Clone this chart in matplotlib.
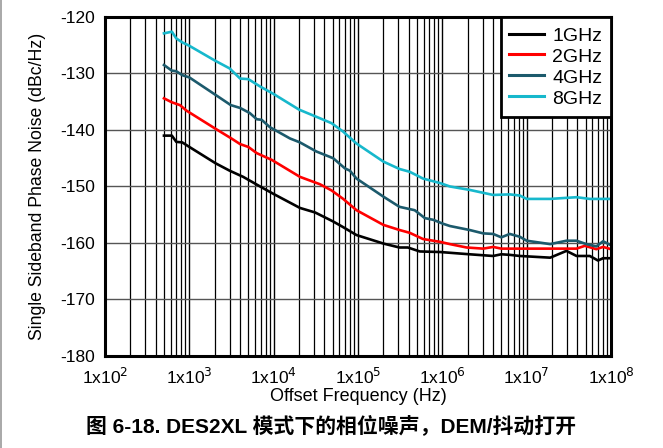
import matplotlib
matplotlib.use("Agg")
import matplotlib.pyplot as plt
from matplotlib.lines import Line2D
from matplotlib.ticker import LogLocator, FixedLocator, NullFormatter

plt.rcParams['font.family'] = ['Liberation Sans', 'Noto Sans CJK SC', 'DejaVu Sans']

# Phase noise traces (offset frequency in Hz, noise in dBc/Hz)
freq_1g = [500, 620, 700, 825, 1000, 2050, 3000, 4350, 6900, 9900, 20500, 31000,
           50800, 66700, 96000, 2.0e5, 3.1e5, 3.9e5, 5.4e5, 9.4e5, 2.1e6, 4.0e6,
           5.0e6, 6.3e6, 8.3e6, 1.9e7, 2.96e7, 3.9e7, 5.6e7, 7.0e7, 8.05e7, 1.0e8]
pn_1g = [-141.0, -141.0, -142.1, -142.2, -143.0, -145.9, -147.2, -148.3, -150.0,
         -151.3, -153.8, -154.6, -156.2, -157.2, -158.6, -160.1, -160.8, -160.8,
         -161.5, -161.6, -162.0, -162.3, -162.0, -162.1, -162.3, -162.6, -161.4,
         -162.3, -162.3, -163.1, -162.7, -162.7]

freq_2g = [500, 620, 774, 930, 2050, 3150, 4000, 5000, 6300, 9500, 20500, 35300,
           48600, 66700, 96000, 2.0e5, 3.1e5, 4.1e5, 5.9e5, 9.4e5, 1.23e6, 1.94e6,
           3.05e6, 4.0e6, 5.0e6, 1.9e7, 3.9e7, 4.9e7, 6.7e7, 8.05e7, 1.0e8]
pn_2g = [-134.4, -135.1, -135.6, -136.6, -139.8, -141.5, -142.5, -143.0, -144.1,
         -145.3, -148.3, -149.6, -150.7, -152.2, -154.2, -156.8, -157.7, -158.2,
         -159.3, -159.8, -160.2, -160.8, -161.0, -160.7, -161.0, -161.0, -161.0,
         -160.5, -161.1, -160.7, -161.1]

freq_4g = [500, 620, 700, 825, 1000, 2050, 3100, 4000, 5200, 6300, 7200, 9000,
           15600, 20500, 32000, 50800, 70000, 80000, 96000, 2.0e5, 3.1e5, 4.7e5,
           6.2e5, 7.8e5, 1.02e6, 1.23e6, 2.1e6, 3.05e6, 4.0e6, 5.0e6, 6.3e6, 8.3e6,
           1.0e7, 1.9e7, 2.96e7, 3.9e7, 5.1e7, 6.7e7, 8.05e7, 1.0e8]
pn_4g = [-128.5, -129.5, -129.6, -130.3, -130.7, -133.8, -135.6, -136.1, -137.0,
         -138.1, -138.2, -139.5, -141.5, -142.2, -143.8, -145.0, -146.8, -147.2,
         -148.6, -151.8, -153.6, -154.2, -155.6, -155.9, -156.6, -157.0, -157.7,
         -158.3, -158.4, -159.0, -158.4, -158.9, -159.6, -160.2, -159.6, -159.6,
         -160.2, -160.6, -159.7, -160.4]

freq_8g = [500, 620, 700, 825, 1000, 2000, 3000, 4000, 5000, 6900, 9900, 20000,
           35000, 48600, 66700, 96000, 2.0e5, 3.1e5, 4.1e5, 5.9e5, 9.4e5, 1.23e6,
           2.1e6, 4.0e6, 6.3e6, 8.3e6, 1.0e7, 1.9e7, 3.9e7, 5.6e7, 1.0e8]
pn_8g = [-122.9, -122.6, -123.8, -124.5, -125.1, -127.7, -129.1, -130.9, -131.0,
         -132.3, -133.6, -136.4, -137.9, -138.8, -140.3, -142.4, -145.6, -146.9,
         -147.4, -148.6, -149.4, -150.0, -150.6, -151.5, -151.4, -151.6, -152.2,
         -152.2, -151.9, -152.2, -152.2]

series_labels = ['1GHz', '2GHz', '4GHz', '8GHz']
series_colors = ['#000000', '#ff0000', '#1c5a6c', '#17b8cc']

x_tick_values = [1e2, 1e3, 1e4, 1e5, 1e6, 1e7, 1e8]
x_tick_labels = [r'1x10$^{2}$', r'1x10$^{3}$', r'1x10$^{4}$', r'1x10$^{5}$',
                 r'1x10$^{6}$', r'1x10$^{7}$', r'1x10$^{8}$']
y_ticks = [-180, -170, -160, -150, -140, -130, -120]

fig = plt.figure(figsize=(6.63, 4.48), dpi=100)
ax = fig.add_axes([0.1584, 0.2054, 0.7632, 0.7567])

traces = [(freq_1g, pn_1g), (freq_2g, pn_2g), (freq_4g, pn_4g), (freq_8g, pn_8g)]
for (f, p), lab, col in zip(traces, series_labels, series_colors):
    ax.plot(f, p, color=col, lw=1.9, label=lab, zorder=3, solid_joinstyle='round')

ax.set_xscale('log')
ax.set_xlim(1e2, 1e8)
ax.set_ylim(-180, -120)

ax.xaxis.set_major_locator(FixedLocator(x_tick_values))
ax.set_xticklabels(x_tick_labels)
ax.xaxis.set_minor_locator(LogLocator(base=10, subs=range(2, 10), numticks=100))
ax.xaxis.set_minor_formatter(NullFormatter())
ax.set_yticks(y_ticks)
ax.set_yticklabels([str(v) for v in y_ticks])

ax.grid(True, which='major', axis='x', color='#000000', lw=1.0)
ax.grid(True, which='minor', axis='x', color='#000000', lw=0.9)
ax.grid(True, which='major', axis='y', color='#555555', lw=1.0)
ax.tick_params(axis='both', which='both', length=0, labelsize=12.5)
ax.tick_params(axis='y', pad=7)
ax.tick_params(axis='x', pad=8)
ax.set_axisbelow(True)

for s in ax.spines.values():
    s.set_linewidth(2.2)
    s.set_color('#000000')
    s.set_zorder(5)

ax.set_xlabel('Offset Frequency (Hz)', fontsize=13)
ax.xaxis.set_label_coords(0.5, -0.121)
ax.xaxis.label.set_va('center')
ax.set_ylabel('Single Sideband Phase Noise (dBc/Hz)', fontsize=12.7)
ax.yaxis.set_label_coords(-0.134, 0.5)
ax.yaxis.label.set_va('center')

leg = ax.legend(loc='upper right', fontsize=14, frameon=True, fancybox=False,
                borderaxespad=0, handlelength=1.8, handletextpad=0.4,
                handleheight=1.05, labelspacing=0.06, borderpad=0.45)
leg.get_frame().set_edgecolor('#000000')
leg.get_frame().set_linewidth(2.0)
leg.get_frame().set_alpha(1)
leg.set_zorder(6)
for h in leg.get_lines():
    h.set_linewidth(2.2)

fig.text(0.5, 0.051, '图 6-18. DES2XL 模式下的相位噪声，DEM/抖动打开',
         ha='center', va='center', fontsize=15, fontweight='bold',
         family=['Liberation Sans', 'Noto Sans CJK SC'])

fig.add_artist(Line2D([0.001, 0.001], [0, 1], transform=fig.transFigure,
                      color='#999999', lw=1.2))

fig.savefig('out.png', dpi=100)
